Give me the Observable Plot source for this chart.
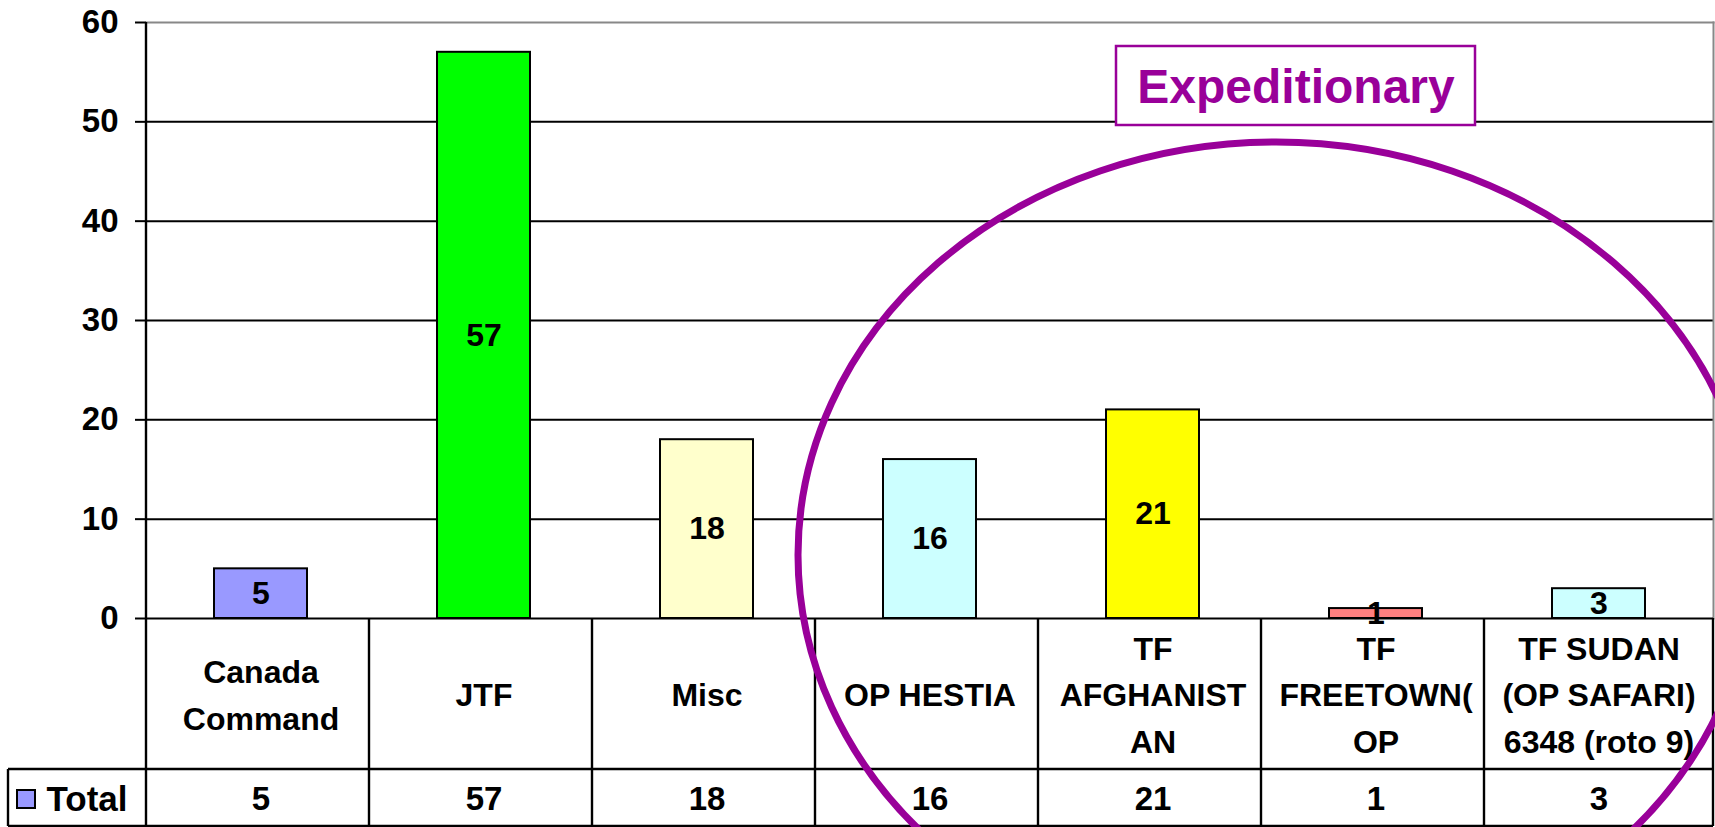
<!DOCTYPE html>
<html>
<head>
<meta charset="utf-8">
<script src="https://cdn.jsdelivr.net/npm/d3@7"></script>
<script src="https://cdn.jsdelivr.net/npm/@observablehq/plot@0.6"></script>
<style>
  html, body { margin: 0; padding: 0; background: #fff; }
  #chart { position: relative; width: 1715px; height: 827px; overflow: hidden; }
</style>
</head>
<body>
<div id="chart"></div>
<script>
const categories = ["Canada Command", "JTF", "Misc", "OP HESTIA", "TF AFGHANISTAN", "TF FREETOWN(OP", "TF SUDAN (OP SAFARI) 6348 (roto 9)"];
const categoryLabels = ["Canada\nCommand", "JTF", "Misc", "OP HESTIA", "TF\nAFGHANIST\nAN", "TF\nFREETOWN(\nOP", "TF SUDAN\n(OP SAFARI)\n6348 (roto 9)"];
const totals = [5, 57, 18, 16, 21, 1, 3];
const barColors = ["#9999FF", "#00FF00", "#FFFFCC", "#CCFFFF", "#FFFF00", "#FF8080", "#CCFFFF"];
const yTicks = [0, 10, 20, 30, 40, 50, 60];
const gridTicks = [10, 20, 30, 40, 50];
const seriesName = "Total";
const annotationText = "Expeditionary";

const data = categories.map((c, i) => ({cat: c, label: categoryLabels[i], value: totals[i]}));
const FONT = "'Liberation Sans', Arial, Helvetica, sans-serif";

const chart = Plot.plot({
  width: 1715,
  height: 827,
  marginLeft: 146,
  marginRight: 2,
  marginTop: 22,
  marginBottom: 209,
  style: {fontFamily: FONT, fontWeight: "bold", background: "#fff", color: "#000", overflow: "visible"},
  x: {domain: categories, paddingInner: 0.585, paddingOuter: 0.2925, axis: null},
  y: {domain: [0, 60], ticks: yTicks},
  color: {domain: categories, range: barColors},
  marks: [
    Plot.gridY(gridTicks, {stroke: "#000", strokeOpacity: 1, strokeWidth: 2}),
    Plot.frame({anchor: "top", stroke: "#888", strokeWidth: 2}),
    Plot.frame({anchor: "right", stroke: "#888", strokeWidth: 2}),
    Plot.axisY({ticks: yTicks, tickSize: 11, tickPadding: 17, fontSize: 33, fontWeight: "bold", label: null, stroke: "#000", strokeWidth: 2}),
    Plot.barY(data, {x: "cat", y: "value", fill: "cat", stroke: "#000", strokeWidth: 2}),
    Plot.ruleY([0], {stroke: "#000", strokeWidth: 2}),
    Plot.text(data, {x: "cat", y: d => d.value / 2, text: d => String(d.value), fontSize: 32, fontWeight: "bold", fill: "#000"}),
    Plot.text(data, {x: "cat", text: "label", frameAnchor: "bottom", dy: 73, lineAnchor: "middle", lineHeight: 1.45, fontSize: 32, fontWeight: "bold", fill: "#000", ariaLabel: "category-labels"}),
    Plot.text(data, {x: "cat", text: d => String(d.value), frameAnchor: "bottom", dy: 181, lineAnchor: "middle", fontSize: 33, fontWeight: "bold", fill: "#000"}),
    Plot.text([seriesName], {frameAnchor: "bottom-left", textAnchor: "start", dx: -100, dy: 181, lineAnchor: "middle", fontSize: 35, fontWeight: "bold", fill: "#000"})
  ]
});

document.getElementById("chart").appendChild(chart);

// letter spacing for table category labels (Excel data-table look)
d3.select(chart).selectAll('g[aria-label="category-labels"] text').attr("letter-spacing", "1.5px");

// data table grid, derived from the plot's scales
const xs = chart.scale("x");
const ys = chart.scale("y");
const left = xs.range[0], right = xs.range[1], step = xs.step;
const y0 = ys.apply(0);
const row1 = y0 + 151, row2 = 826;
const tableLeft = 8;
const g = d3.select(chart).append("g").attr("stroke", "#000").attr("stroke-width", 2.4).attr("fill", "none");
for (let k = 0; k <= categories.length; k++) {
  const x = k === categories.length ? right : left + k * step;
  g.append("line").attr("x1", x).attr("x2", x).attr("y1", k === 0 ? ys.apply(60) : y0).attr("y2", row2);
}
g.append("line").attr("x1", tableLeft).attr("x2", right).attr("y1", row1).attr("y2", row1);
g.append("line").attr("x1", tableLeft).attr("x2", right).attr("y1", row2).attr("y2", row2);
g.append("line").attr("x1", tableLeft).attr("x2", tableLeft).attr("y1", row1).attr("y2", row2);
// legend swatch in table
d3.select(chart).append("rect").attr("x", 17).attr("y", 790).attr("width", 18).attr("height", 18)
  .attr("fill", barColors[0]).attr("stroke", "#000").attr("stroke-width", 2);

// annotation: Expeditionary box and circling ellipse
const ann = d3.select(chart).append("g");
ann.append("rect").attr("x", 1116).attr("y", 46).attr("width", 359).attr("height", 79)
  .attr("fill", "#fff").attr("stroke", "#990099").attr("stroke-width", 2.5);
ann.append("text").attr("x", 1296).attr("y", 103).attr("text-anchor", "middle")
  .attr("font-family", FONT).attr("font-weight", "bold").attr("font-size", 48).attr("fill", "#990099")
  .text(annotationText);
ann.append("ellipse").attr("cx", 1276).attr("cy", 555).attr("rx", 478).attr("ry", 413)
  .attr("fill", "none").attr("stroke", "#990099").attr("stroke-width", 7);
</script>
</body>
</html>
